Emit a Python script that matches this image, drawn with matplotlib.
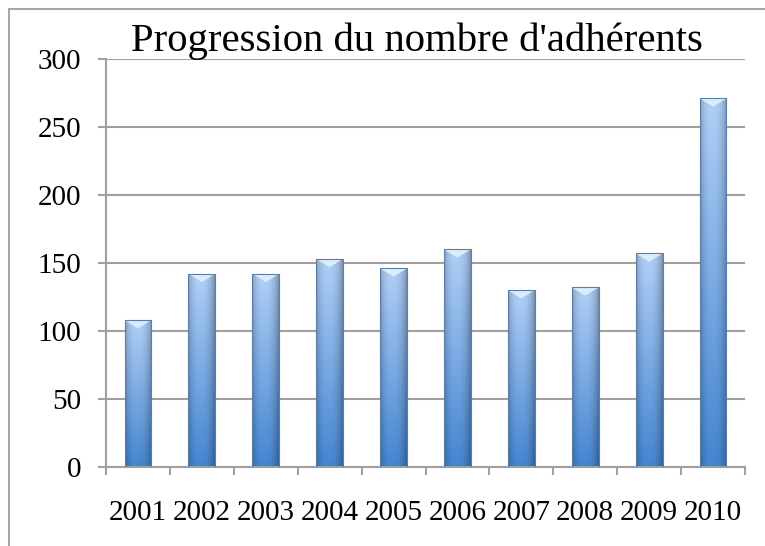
"""
Progression du nombre d'adhérents - histogramme style Excel
"""
import numpy as np
import matplotlib
matplotlib.use('Agg')
import matplotlib.pyplot as plt
from matplotlib.patches import Rectangle, Polygon

# Donnees
annees = ['2001', '2002', '2003', '2004', '2005', '2006', '2007', '2008', '2009', '2010']
adherents = [108, 142, 142, 153, 146, 160, 130, 132, 157, 271]
y_ticks = [0, 50, 100, 150, 200, 250, 300]
titre = "Progression du nombre d'adhérents"

plt.rcParams['font.family'] = ['Liberation Serif', 'DejaVu Serif']

fig = plt.figure(figsize=(7.65, 5.46), dpi=100)
ax = fig.add_axes([106/765, 1 - 467/546, (745 - 106)/765, (467 - 59)/546])

# Cadre exterieur (coupe a droite et en bas)
fig.patches.append(Rectangle((9/765, -0.5), 2, 1.5 - 9/546, transform=fig.transFigure,
                             fill=False, edgecolor='#a6a6a6', linewidth=1.5))

x = np.arange(len(annees))
bars = ax.bar(x, adherents, width=0.42, color='none', edgecolor='#5b7ea6',
              linewidth=0.8, zorder=3)

# Degrade des barres
ny, nx = 100, 40
v = np.linspace(0, 1, ny)[:, None]          # 0 = haut, 1 = bas
u = np.linspace(0, 1, nx)[None, :]
top = np.array([182, 214, 255]) / 255
bottom = np.array([70, 138, 216]) / 255
base = top[None, None, :] * (1 - v[..., None]) + bottom[None, None, :] * v[..., None]
shade = 1 - 0.25 * np.abs(2 * u - 1)[..., None] ** 2.5 - 0.06 * u[..., None]
grad = np.clip(base * shade, 0, 1)

for bar in bars:
    x0, y0 = bar.get_x(), bar.get_y()
    w, h = bar.get_width(), bar.get_height()
    im = ax.imshow(grad, extent=[x0, x0 + w, y0, y0 + h], aspect='auto',
                   zorder=2.5, interpolation='bilinear')
    im.set_clip_path(bar)
    # biseau en haut de la barre
    d = 6
    ax.add_patch(Polygon([[x0, h], [x0 + w, h], [x0 + w/2, h - d]],
                         closed=True, facecolor='#dcefff', edgecolor='none',
                         alpha=0.95, zorder=2.7))

ax.set_xlim(-0.5, len(annees) - 0.5)
ax.set_ylim(0, 300)
ax.set_yticks(y_ticks)
ax.set_xticks(x)
ax.set_xticklabels(annees)
ax.set_xticks(np.arange(-0.5, len(annees)), minor=True)

ax.grid(axis='y', color='#a0a0a0', linewidth=1.5, zorder=0)
ax.set_axisbelow(True)
for s in ['top', 'right']:
    ax.spines[s].set_visible(False)
for s in ['left', 'bottom']:
    ax.spines[s].set_color('#a0a0a0')
    ax.spines[s].set_linewidth(1.5)

ax.tick_params(axis='y', length=6, width=1.5, color='#a0a0a0', pad=12, labelsize=21)
ax.tick_params(axis='x', which='major', length=0, pad=24, labelsize=21)
ax.tick_params(axis='x', which='minor', length=6, width=1.5, color='#a0a0a0')

fig.text(416.5/765, 1 - 51/546, titre, ha='center', va='baseline', fontsize=29.3)

fig.savefig('out.png', dpi=100)
